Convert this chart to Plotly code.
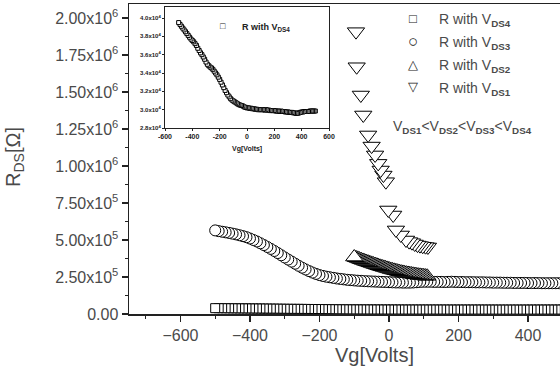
import plotly.graph_objects as go

# ---------------- data ----------------
# V_DS4 (squares), Vg grid -500..500 step 10, R in ohm (x1e4)
r_ds4 = [3.95, 3.93, 3.91, 3.89, 3.87, 3.85, 3.83, 3.81, 3.79, 3.77,
         3.755, 3.74, 3.72, 3.70, 3.67, 3.645, 3.62, 3.60, 3.575, 3.55,
         3.52, 3.495, 3.48, 3.465, 3.455, 3.44, 3.42, 3.40, 3.38, 3.355,
         3.33, 3.30, 3.27, 3.24, 3.21, 3.185, 3.16, 3.14, 3.12, 3.105,
         3.095, 3.085, 3.075, 3.065, 3.055, 3.05, 3.045, 3.04, 3.03, 3.025,
         3.02, 3.02, 3.015, 3.015, 3.01, 3.01, 3.005, 3.005, 3.0, 3.0,
         3.0, 3.0, 3.0, 2.995, 3.0, 2.995, 2.995, 2.99, 2.99, 2.99,
         2.99, 2.985, 2.985, 2.985, 2.98, 2.985, 2.98, 2.98, 2.975, 2.975,
         2.975, 2.97, 2.97, 2.97, 2.965, 2.965, 2.96, 2.96, 2.965, 2.97,
         2.975, 2.975, 2.98, 2.98, 2.98, 2.98, 2.985, 2.985, 2.985, 2.985,
         2.985]
vg_ds4 = list(range(-500, -500 + 10 * len(r_ds4), 10))

# V_DS3 (circles), Vg grid -500..500 step 10, R (x1e5)
r_ds3 = [5.65, 5.60, 5.56, 5.52, 5.48, 5.43, 5.38, 5.32, 5.26, 5.19,
         5.10, 5.00, 4.90, 4.78, 4.66, 4.53, 4.40, 4.26, 4.12, 3.97,
         3.82, 3.68, 3.54, 3.40, 3.26, 3.13, 3.01, 2.90, 2.80, 2.71,
         2.63, 2.57, 2.52, 2.48, 2.44, 2.40, 2.37, 2.34, 2.31, 2.29,
         2.27, 2.25, 2.24, 2.22, 2.21, 2.20, 2.19, 2.18, 2.17, 2.16,
         2.15, 2.14, 2.13, 2.13, 2.12, 2.12, 2.12, 2.13, 2.15, 2.17,
         2.18, 2.18, 2.18, 2.17, 2.17, 2.17, 2.16, 2.17, 2.18, 2.17,
         2.16, 2.16, 2.15, 2.15, 2.15, 2.14, 2.14, 2.14, 2.13, 2.13,
         2.12, 2.12, 2.12, 2.11, 2.11, 2.11, 2.10, 2.10, 2.10, 2.10,
         2.09, 2.09, 2.09, 2.09, 2.08, 2.08, 2.08, 2.08, 2.08, 2.08,
         2.08]
vg_ds3 = list(range(-500, -500 + 10 * len(r_ds3), 10))

# V_DS2 (up triangles), Vg grid -100..110 step 5, R (x1e5)
r_ds2 = [3.85, 3.80, 3.76, 3.71, 3.67, 3.62, 3.58, 3.54, 3.50, 3.46,
         3.42, 3.38, 3.34, 3.30, 3.26, 3.22, 3.19, 3.15, 3.12, 3.08,
         3.05, 3.01, 2.98, 2.95, 2.92, 2.89, 2.86, 2.83, 2.81, 2.78,
         2.76, 2.74, 2.72, 2.70, 2.68, 2.66, 2.64, 2.62, 2.61, 2.59,
         2.58, 2.56, 2.55]
vg_ds2 = list(range(-100, -100 + 5 * len(r_ds2), 5))

# V_DS1 (down triangles)
vg_ds1 = [-95, -93, -81, -74, -60, -50, -40, -31, -24, -16, -9, -2, 12, 20,
          34, 49, 58, 66, 74, 82, 89, 97, 105, 112]
r_ds1 = [1.908, 1.671, 1.480, 1.345, 1.210, 1.135, 1.075, 1.018, 0.973,
         0.939, 0.894, 0.703, 0.669, 0.568, 0.534, 0.500, 0.489, 0.482,
         0.473, 0.466, 0.462, 0.458, 0.455, 0.453]  # x1e6

main_xticks = [-600, -400, -200, 0, 200, 400]
main_yticks = [0, 2.5e5, 5e5, 7.5e5, 1e6, 1.25e6, 1.5e6, 1.75e6, 2e6]
main_ytext = ["0.00", "2.50x10<sup>5</sup>", "5.00x10<sup>5</sup>",
              "7.50x10<sup>5</sup>", "1.00x10<sup>6</sup>", "1.25x10<sup>6</sup>",
              "1.50x10<sup>6</sup>", "1.75x10<sup>6</sup>", "2.00x10<sup>6</sup>"]
inset_xticks = [-600, -400, -200, 0, 200, 400, 600]
inset_yticks = [2.8e4, 3.0e4, 3.2e4, 3.4e4, 3.6e4, 3.8e4, 4.0e4]
inset_ytext = ["2.8x10<sup>4</sup>", "3.0x10<sup>4</sup>", "3.2x10<sup>4</sup>",
               "3.4x10<sup>4</sup>", "3.6x10<sup>4</sup>", "3.8x10<sup>4</sup>",
               "4.0x10<sup>4</sup>"]
legend_symbols = ["□", "○", "△", "▽"]
legend_sizes = [13, 17, 13, 13]
legend_labels = ["R with V<sub><b>DS4</b></sub>", "R with V<sub><b>DS3</b></sub>",
                 "R with V<sub><b>DS2</b></sub>", "R with V<sub><b>DS1</b></sub>"]

# ---------------- figure ----------------
FONT = "Liberation Sans, Arial, sans-serif"
GRAY = "#4a4a4a"

def rev(a):
    return list(a)[::-1]

fig = go.Figure()
mk = dict(color="white", line=dict(color="black", width=1))

fig.add_trace(go.Scatter(
    x=rev(vg_ds4), y=rev([v * 1e4 for v in r_ds4]), mode="markers",
    name=legend_labels[0], marker=dict(symbol="square", size=9, **mk)))
fig.add_trace(go.Scatter(
    x=rev(vg_ds3), y=rev([v * 1e5 for v in r_ds3]), mode="markers",
    name=legend_labels[1], marker=dict(symbol="circle", size=11, **mk)))
fig.add_trace(go.Scatter(
    x=rev(vg_ds2), y=rev([v * 1e5 for v in r_ds2]), mode="markers",
    name=legend_labels[2], marker=dict(symbol="triangle-up", size=15, **mk)))
fig.add_trace(go.Scatter(
    x=rev(vg_ds1), y=rev([v * 1e6 for v in r_ds1]), mode="markers",
    name=legend_labels[3], marker=dict(symbol="triangle-down", size=15, **mk)))

# inset
fig.add_trace(go.Scatter(
    x=rev(vg_ds4), y=rev([v * 1e4 for v in r_ds4]), mode="markers",
    xaxis="x2", yaxis="y2", showlegend=False,
    marker=dict(symbol="square", size=4, color="white",
                line=dict(color="black", width=1))))

W, H = 560, 381
L, R, T, B = 129, 0, 4, 67
PW, PH = W - L - R, H - T - B

def px_x(p):
    return (p - L) / PW

def px_y(p):
    return (H - B - p) / PH

axis_common = dict(showgrid=False, zeroline=False, showline=True, automargin=False,
                   linecolor="#222", ticks="outside", tickcolor="#222")

fig.update_layout(
    width=W, height=H,
    margin=dict(l=L, r=R, t=T, b=B, pad=0, autoexpand=False),
    paper_bgcolor="white", plot_bgcolor="white",
    font=dict(family=FONT, color=GRAY, size=15),
    showlegend=False, hovermode=False,
    xaxis=dict(range=[-748, 492], tickvals=main_xticks, ticklen=6,
               linewidth=1.5, tickwidth=1.2, mirror=True,
               minor=dict(dtick=100, tick0=0, ticklen=3, ticks="outside",
                          tickcolor="#222"),
               tickfont=dict(size=16, color=GRAY), **axis_common),
    yaxis=dict(range=[0, 2.095e6], tickvals=main_yticks, ticktext=main_ytext,
               ticklen=6, linewidth=1.5, tickwidth=1.2, mirror=False,
               minor=dict(dtick=1.25e5, tick0=0, ticklen=3, ticks="outside",
                          tickcolor="#222"),
               tickfont=dict(size=16, color=GRAY), **axis_common),
    xaxis2=dict(domain=[px_x(165), px_x(329)], anchor="y2", range=[-600, 600],
                tickvals=inset_xticks, ticklen=2, linewidth=1, mirror=True,
                tickfont=dict(size=7, color="#222"),
                ticktext=[f"<b>{v}</b>" for v in inset_xticks],
                **axis_common),
    yaxis2=dict(domain=[px_y(128), px_y(7)], anchor="x2", range=[2.8e4, 4.12e4],
                tickvals=inset_yticks, ticktext=[f"<b>{t}</b>" for t in inset_ytext],
                ticklen=2, linewidth=1, mirror=True,
                tickfont=dict(size=6, color="#222"), **axis_common),
)

anns = [
    dict(text="Vg[Volts]", x=px_x(374), y=px_y(355), font=dict(size=20, color=GRAY)),
    dict(text="R<sub>DS</sub>[Ω]", x=px_x(14), y=px_y(157), textangle=-90,
         font=dict(size=20, color=GRAY)),
    dict(text="V<sub><b>DS1</b></sub>&lt;V<sub><b>DS2</b></sub>&lt;V<sub><b>DS3</b></sub>&lt;V<sub><b>DS4</b></sub>",
         x=px_x(391), y=px_y(127), xanchor="left", font=dict(size=14, color=GRAY)),
    dict(text="□", x=px_x(223), y=px_y(26), font=dict(size=9, color="#222")),
    dict(text="<b>R with V<sub>DS4</sub></b>", x=px_x(240), y=px_y(27), xanchor="left",
         font=dict(size=9, color="#222")),
    dict(text="<b>Vg[Volts]</b>", x=px_x(247), y=px_y(149), font=dict(size=7, color="#222")),
]
# main legend (drawn as text so symbol size and row spacing match)
legend_rows_px = [18, 41, 64, 87]
for sym, sz, lab, ry in zip(legend_symbols, legend_sizes, legend_labels, legend_rows_px):
    anns.append(dict(text=sym, x=px_x(413), y=px_y(ry), font=dict(size=sz, color="#222")))
    anns.append(dict(text=lab, x=px_x(437), y=px_y(ry + 2), xanchor="left",
                     font=dict(size=14, color=GRAY)))

for a in anns:
    a.setdefault("xanchor", "center")
    fig.add_annotation(xref="paper", yref="paper", showarrow=False, yanchor="middle", **a)

fig.write_html("out.html",
               config={"displayModeBar": False, "staticPlot": True},
               post_script="document.body.style.margin='0';document.body.style.overflow='hidden';")
